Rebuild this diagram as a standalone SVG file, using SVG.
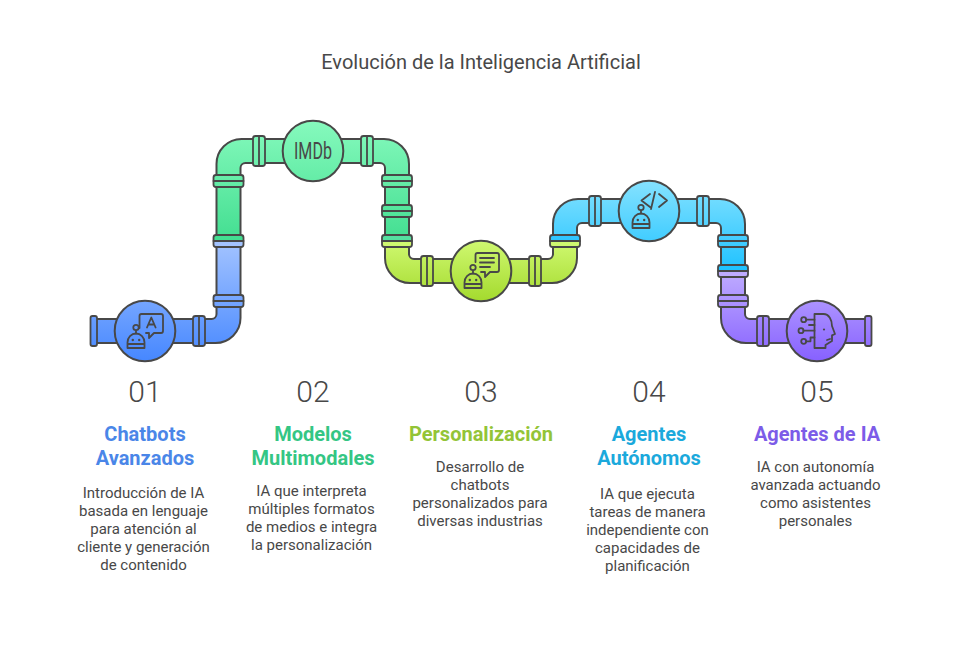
<svg xmlns="http://www.w3.org/2000/svg" width="962" height="650" viewBox="0 0 962 650">
<style>
text{font-family:Roboto,"Liberation Sans",sans-serif;text-anchor:middle;fill:#484848}
.t{font-size:20px}
.n{font-size:30px;font-weight:300}
.h{font-size:20px;font-weight:700}
.b{font-size:15px}
.s,.f,.i{stroke:#484848;stroke-width:1.8;stroke-linejoin:round;stroke-linecap:round}
.s{stroke-width:2}
.i{fill:none}
.d{fill:#484848}
.l{fill:none}
</style>
<defs>
<linearGradient id="g1" gradientUnits="userSpaceOnUse" x1="0" y1="241" x2="0" y2="361"><stop offset="0" stop-color="#a3c3ff"/><stop offset="1" stop-color="#4687ff"/></linearGradient>
<linearGradient id="g2" gradientUnits="userSpaceOnUse" x1="0" y1="121" x2="0" y2="241"><stop offset="0" stop-color="#86fabd"/><stop offset="1" stop-color="#43de91"/></linearGradient>
<linearGradient id="g3" gradientUnits="userSpaceOnUse" x1="0" y1="241" x2="0" y2="301"><stop offset="0" stop-color="#cff870"/><stop offset="1" stop-color="#a4da2e"/></linearGradient>
<linearGradient id="g4" gradientUnits="userSpaceOnUse" x1="0" y1="181" x2="0" y2="271"><stop offset="0" stop-color="#85e2ff"/><stop offset="1" stop-color="#1fc2ff"/></linearGradient>
<linearGradient id="g5" gradientUnits="userSpaceOnUse" x1="0" y1="271" x2="0" y2="361"><stop offset="0" stop-color="#bfacff"/><stop offset="1" stop-color="#8761ff"/></linearGradient>
<g id="robot">
<circle class="i" cx="0" cy="0" r="2.7"/>
<path class="i" d="M0 2.700V6"/>
<path class="i" d="M-8.500 20.500V15a8.500 9 0 0 1 17 0V20.500ZM-8.500 16.500H8.500"/>
<circle class="d" cx="-3.200" cy="12.500" r="1.200"/><circle class="d" cx="3.200" cy="12.500" r="1.200"/>
</g>
</defs>
<rect width="962" height="650" fill="#fff"/>
<text class="t" x="481" y="69">Evolución de la Inteligencia Artificial</text>

<g id="connectors">
<path class="s" fill="url(#g1)" d="M94 319H211.500a5 5 0 0 0 5-5V241H240.500V318A25 25 0 0 1 215.500 343H94Z"/>
<path class="s" fill="url(#g2)" d="M216.500 241V164A25 25 0 0 1 241.500 139H384A25 25 0 0 1 409 164V241H385V168a5 5 0 0 0-5-5H245.500a5 5 0 0 0-5 5V241Z"/>
<path class="s" fill="url(#g3)" d="M385 241V258A25 25 0 0 0 410 283H552A25 25 0 0 0 577 258V241H553V254a5 5 0 0 1-5 5H414a5 5 0 0 1-5-5V241Z"/>
<path class="s" fill="url(#g4)" d="M553 241V224A25 25 0 0 1 578 199H720A25 25 0 0 1 745 224V271H721V228a5 5 0 0 0-5-5H582a5 5 0 0 0-5 5V241Z"/>
<path class="s" fill="url(#g5)" d="M721 271V318A25 25 0 0 0 746 343H868V319H750a5 5 0 0 1-5-5V271Z"/>
<g fill="url(#g1)">
<rect class="f" x="90.500" y="316" width="6.500" height="30" rx="2"/>
<rect class="f" x="193" y="316" width="12" height="30" rx="2.500"/>
<rect class="f" x="213.500" y="295" width="30" height="12" rx="2.500"/>
</g>
<g fill="url(#g2)">
<rect class="f" x="213.500" y="175" width="30" height="12" rx="2.500"/>
<rect class="f" x="253" y="136" width="12" height="30" rx="2.500"/>
<rect class="f" x="361" y="136" width="12" height="30" rx="2.500"/>
<rect class="f" x="382" y="175" width="30" height="12" rx="2.500"/>
<rect class="f" x="382" y="205" width="30" height="12" rx="2.500"/>
</g>
<g fill="url(#g3)">
<rect class="f" x="421" y="256" width="12" height="30" rx="2.500"/>
<rect class="f" x="529" y="256" width="12" height="30" rx="2.500"/>
</g>
<g fill="url(#g4)">
<rect class="f" x="589" y="196" width="12" height="30" rx="2.500"/>
<rect class="f" x="697" y="196" width="12" height="30" rx="2.500"/>
<rect class="f" x="718" y="235" width="30" height="12" rx="2.500"/>
</g>
<g fill="url(#g5)">
<rect class="f" x="718" y="295" width="30" height="12" rx="2.500"/>
<rect class="f" x="757" y="316" width="12" height="30" rx="2.500"/>
<rect class="f" x="865" y="316" width="6.500" height="30" rx="2"/>
</g>
<path class="f" fill="#43de91" d="M213.500 241V237.500a2.500 2.500 0 0 1 2.500-2.500H241a2.500 2.500 0 0 1 2.500 2.500V241Z"/>
<path class="f" fill="#a3c3ff" d="M213.500 241V244.500a2.500 2.500 0 0 0 2.500 2.500H241a2.500 2.500 0 0 0 2.500-2.500V241Z"/>
<path class="f" fill="#55dfa0" d="M382 241V237.500a2.500 2.500 0 0 1 2.500-2.500H409.500a2.500 2.500 0 0 1 2.500 2.500V241Z"/>
<path class="f" fill="#cff870" d="M382 241V244.500a2.500 2.500 0 0 0 2.500 2.500H409.500a2.500 2.500 0 0 0 2.500-2.500V241Z"/>
<path class="f" fill="#30c5ff" d="M550 241V237.500a2.500 2.500 0 0 1 2.500-2.500H577.500a2.500 2.500 0 0 1 2.500 2.500V241Z"/>
<path class="f" fill="#cff870" d="M550 241V244.500a2.500 2.500 0 0 0 2.500 2.500H577.500a2.500 2.500 0 0 0 2.500-2.500V241Z"/>
<path class="f" fill="#1fc2ff" d="M718 271V267.500a2.500 2.500 0 0 1 2.500-2.500H745.500a2.500 2.500 0 0 1 2.500 2.500V271Z"/>
<path class="f" fill="#bfacff" d="M718 271V274.500a2.500 2.500 0 0 0 2.500 2.500H745.500a2.500 2.500 0 0 0 2.500-2.500V271Z"/>
<path class="f l" d="M199 316V346M259 136V166M367 136V166M427 256V286M535 256V286M595 196V226M703 196V226M763 316V346M213.500 301H243.500M213.500 181H243.500M382 181H412M382 211H412M718 241H748M718 301H748"/>
</g>

<g id="node-1">
<circle class="s" cx="145" cy="331" r="30.300" fill="url(#g1)"/>
<use href="#robot" x="136" y="327.500"/>
<path class="i" d="M139.500 328V316a2 2 0 0 1 2-2H161a2 2 0 0 1 2 2V331a2 2 0 0 1-2 2H154L149 338V333H146"/>
<path class="i" d="M147 327.500L151.300 317.500L155.600 327.500M148.500 324.500H154"/>
<text class="n" x="145" y="402">01</text>
<text class="h" x="145" y="441" style="fill:#4a86e8">Chatbots</text>
<text class="h" x="145" y="465" style="fill:#4a86e8">Avanzados</text>
<text class="b" x="143.500" y="498">Introducción de IA</text>
<text class="b" x="143.500" y="516">basada en lenguaje</text>
<text class="b" x="143.500" y="534">para atención al</text>
<text class="b" x="143.500" y="552">cliente y generación</text>
<text class="b" x="143.500" y="570">de contenido</text>
</g>

<g id="node-2">
<circle class="s" cx="313" cy="151" r="30.300" fill="url(#g2)"/>
<text x="313" y="159" style="font-size:24px;font-weight:400" textLength="38" lengthAdjust="spacingAndGlyphs">IMDb</text>
<text class="n" x="313" y="402">02</text>
<text class="h" x="313" y="441" style="fill:#34c684">Modelos</text>
<text class="h" x="313" y="465" style="fill:#34c684">Multimodales</text>
<text class="b" x="311.500" y="496">IA que interpreta</text>
<text class="b" x="311.500" y="514">múltiples formatos</text>
<text class="b" x="311.500" y="532">de medios e integra</text>
<text class="b" x="311.500" y="550">la personalización</text>
</g>

<g id="node-3">
<circle class="s" cx="481" cy="271" r="30.300" fill="url(#g3)"/>
<use href="#robot" x="473" y="267.500"/>
<path class="i" d="M475.500 262V255a2 2 0 0 1 2-2H497a2 2 0 0 1 2 2V270a2 2 0 0 1-2 2H490L485 277V272H481"/>
<path class="i" d="M480 258H494M480 262.500H494M480 267H490"/>
<text class="n" x="481" y="402">03</text>
<text class="h" x="481" y="441" style="fill:#93c437">Personalización</text>
<text class="b" x="480" y="472">Desarrollo de</text>
<text class="b" x="480" y="490">chatbots</text>
<text class="b" x="480" y="508">personalizados para</text>
<text class="b" x="480" y="526">diversas industrias</text>
</g>

<g id="node-4">
<circle class="s" cx="649" cy="211" r="30.300" fill="url(#g4)"/>
<use href="#robot" x="641" y="207.500"/>
<path class="i" d="M650 194L641.500 200.500L650 207M655 192L651 209M659 194L667 200.500L659 207"/>
<text class="n" x="649" y="402">04</text>
<text class="h" x="649" y="441" style="fill:#1ba9dc">Agentes</text>
<text class="h" x="649" y="465" style="fill:#1ba9dc">Autónomos</text>
<text class="b" x="647.500" y="499">IA que ejecuta</text>
<text class="b" x="647.500" y="517">tareas de manera</text>
<text class="b" x="647.500" y="535">independiente con</text>
<text class="b" x="647.500" y="553">capacidades de</text>
<text class="b" x="647.500" y="571">planificación</text>
</g>

<g id="node-5">
<circle class="s" cx="817" cy="331" r="30.300" fill="url(#g5)"/>
<path class="i" d="M814.500 314H823.500C829 314 832 320 832 326L835 334L832 335.300V341L825.500 345V348H814.500Z"/>
<circle class="d" cx="824" cy="329.500" r="1.100"/>
<path class="i" d="M827 340L830 339"/>
<circle class="i" cx="803.700" cy="319.700" r="2.500"/><circle class="i" cx="801" cy="330.700" r="2.500"/><circle class="i" cx="803.700" cy="341.300" r="2.500"/>
<path class="i" d="M806.200 319.700H814.500M803.500 330.700H814.500M806.200 341.300H810.500V337.500H814.500M809 325H814.500"/>
<text class="n" x="817" y="402">05</text>
<text class="h" x="817" y="441" style="fill:#7c5ce8">Agentes de IA</text>
<text class="b" x="815.500" y="472">IA con autonomía</text>
<text class="b" x="815.500" y="490">avanzada actuando</text>
<text class="b" x="815.500" y="508">como asistentes</text>
<text class="b" x="815.500" y="526">personales</text>
</g>
</svg>
